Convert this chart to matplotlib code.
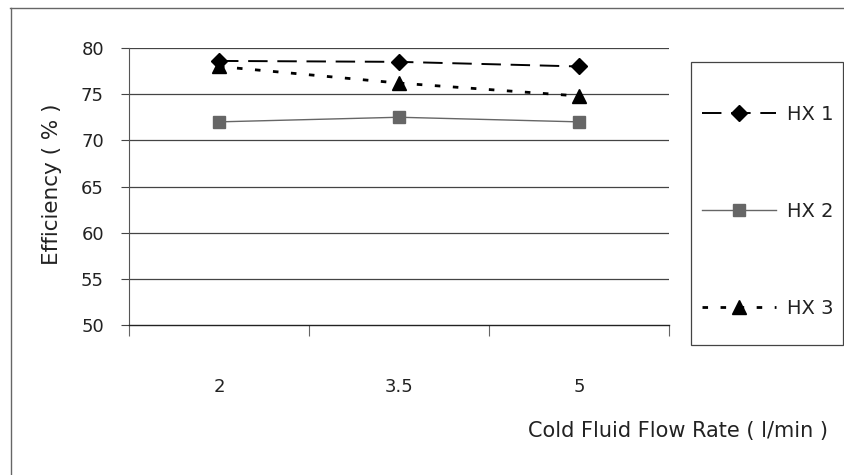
import matplotlib
matplotlib.use("Agg")
import matplotlib.pyplot as plt
from matplotlib.lines import Line2D
from matplotlib.patches import Rectangle

categories = ["2", "3.5", "5"]
hx1 = [78.6, 78.5, 78.0]
hx2 = [72.0, 72.5, 72.0]
hx3 = [78.0, 76.2, 74.8]
series_names = ["HX 1", "HX 2", "HX 3"]
yticks = [50, 55, 60, 65, 70, 75, 80]

plt.rcParams['font.family'] = ['DejaVu Sans']
W, H = 844, 475
fig = plt.figure(figsize=(W / 100, H / 100), dpi=100)
ax = fig.add_axes([129 / W, 1 - 325 / H, 540 / W, 277 / H])

x = list(range(len(categories)))
txt = '#222222'
l1, = ax.plot(x, hx1, color='black', lw=1.4, ls=(0, (10, 5)), marker='D', ms=8,
              mfc='black', mec='black', label=series_names[0], zorder=4)
l2, = ax.plot(x, hx2, color='#666666', lw=1.0, ls='-', marker='s', ms=8,
              mfc='#666666', mec='#666666', label=series_names[1], zorder=3)
l3, = ax.plot(x, hx3, color='black', lw=2.0, ls=(0, (2, 4.5)), marker='^', ms=10,
              mfc='black', mec='black', label=series_names[2], zorder=4)

ax.set_xlim(-0.5, len(categories) - 0.5)
ax.set_ylim(50, 80)
ax.set_yticks(yticks)
ax.set_yticklabels([str(v) for v in yticks])
ax.set_xticks(x)
ax.set_xticklabels(categories)
ax.tick_params(axis='x', length=0, pad=38, labelsize=13, colors=txt)
ax.tick_params(axis='y', length=6, width=0.8, color='#444444', pad=12, labelsize=13, labelcolor=txt)
# category boundary ticks
ax.set_xticks([-0.5, 0.5, 1.5, 2.5], minor=True)
ax.tick_params(axis='x', which='minor', length=8, width=0.8, color='#666666', direction='out')

for v in yticks[1:]:
    ax.axhline(v, color='#444444', lw=0.9, zorder=1)
for s in ['top', 'right']:
    ax.spines[s].set_visible(False)
ax.spines['left'].set_color('#555555')
ax.spines['left'].set_linewidth(0.8)
ax.spines['bottom'].set_color('#222222')
ax.spines['bottom'].set_linewidth(1.0)

fig.text(52 / W, 1 - 184 / H, 'Efficiency ( % )', fontsize=15.5, color=txt,
         rotation=90, ha='center', va='center')
fig.text(828 / W, 1 - 431 / H, 'Cold Fluid Flow Rate ( l/min )', fontsize=15,
         color=txt, ha='right', va='center')

# legend box
fig.patches.append(Rectangle((691 / W, 1 - 345 / H), (843 - 691) / W, (345 - 62) / H,
                             transform=fig.transFigure, fill=False, edgecolor='#444444', lw=0.9))
leg = fig.legend(handles=[l1, l2, l3], loc='upper left',
                 bbox_to_anchor=(702 / W, 1 - 104.5 / H), frameon=False, fontsize=14,
                 borderpad=0, borderaxespad=0,
                 handlelength=3.8, handletextpad=0.57, labelspacing=4.03, labelcolor=txt)

# outer figure frame
fig.add_artist(Line2D([10 / W, 1], [1 - 8 / H, 1 - 8 / H], transform=fig.transFigure,
                      color='#666666', lw=1.0))
fig.add_artist(Line2D([11 / W, 11 / W], [1 - 8 / H, 0], transform=fig.transFigure,
                      color='#666666', lw=1.0))

fig.savefig('out.png', dpi=100)
